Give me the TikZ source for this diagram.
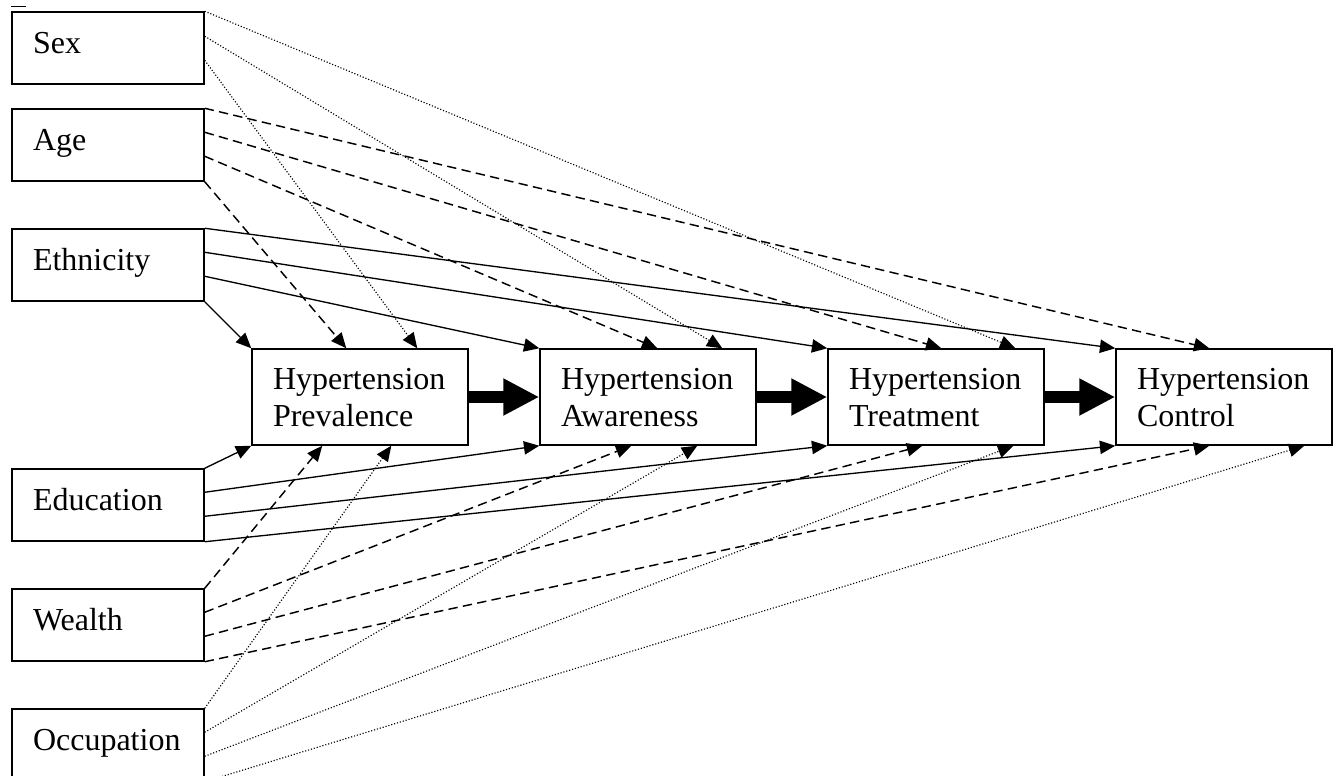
\documentclass[tikz,border=0pt]{standalone}
\usepackage{fontspec}
\setmainfont{Liberation Serif}
\usetikzlibrary{arrows.meta,calc}
\begin{document}
\begin{tikzpicture}[x=0.75pt,y=-0.75pt,
  every node/.style={font=\fontsize{24pt}{27.75pt}\selectfont},
  leftbox/.style={draw, line width=1.1pt, minimum width=144pt, minimum height=54pt,
    inner xsep=15.75pt, inner ysep=0pt, text width=112.5pt, align=left,
    text height=18pt, text depth=10.5pt},
  midbox/.style={draw, line width=1.1pt, minimum width=162pt, minimum height=72pt,
    inner xsep=15.75pt, inner ysep=0pt, text width=130.5pt, align=left,
    text height=18pt, text depth=30pt},
  link/.style={line width=1pt, -{Triangle[length=11.5pt,width=10pt]}},
  dashlink/.style={link, line width=1.1pt, dash pattern=on 7pt off 4pt},
  dotlink/.style={link, line width=0.85pt, dash pattern=on 0.85pt off 1.4pt},
  bigarrow/.style={line width=9pt, -{Triangle[length=27pt,width=26pt]}}
]
\useasboundingbox (0,0) rectangle (1341,775);

% left boxes
\node[leftbox] (sex)  at (108,48)  {Sex};
\node[leftbox] (age)  at (108,145) {Age};
\node[leftbox] (eth)  at (108,265) {Ethnicity};
\node[leftbox] (edu)  at (108,505) {Education};
\node[leftbox] (wea)  at (108,625) {Wealth};
\node[leftbox] (occ)  at (108,745) {Occupation};

% stray mark
\draw[line width=0.9pt] ($(sex.north west)+(0,-5)$) -- ($(sex.north west)+(15,-5)$);

% middle boxes
\node[midbox] (prev) at (360,397)  {Hypertension\\Prevalence};
\node[midbox] (awa)  at (648,397)  {Hypertension\\Awareness};
\node[midbox] (trt)  at (936,397)  {Hypertension\\Treatment};
\node[midbox] (ctl)  at (1224,397) {Hypertension\\Control};

% thick arrows
\draw[bigarrow] (prev.east) -- (awa.west);
\draw[bigarrow] (awa.east) -- (trt.west);
\draw[bigarrow] (trt.east) -- (ctl.west);

% Sex (dotted)
\draw[dotlink] (sex.north east) -- ($(trt.north west)+(188,0)$);
\draw[dotlink] ($(sex.north east)+(0,25)$) -- ($(awa.north west)+(183,0)$);
\draw[dotlink] ($(sex.north east)+(0,49)$) -- ($(prev.north west)+(166,0)$);

% Age (dashed)
\draw[dashlink] (age.north east) -- ($(ctl.north west)+(94,0)$);
\draw[dashlink] ($(age.north east)+(0,24)$) -- ($(trt.north west)+(114,0)$);
\draw[dashlink] ($(age.north east)+(0,48)$) -- ($(awa.north west)+(118,0)$);
\draw[dashlink] (age.south east) -- ($(prev.north west)+(95,0)$);

% Ethnicity (solid)
\draw[link] (eth.north east) -- (ctl.north west);
\draw[link] ($(eth.north east)+(0,24)$) -- (trt.north west);
\draw[link] ($(eth.north east)+(0,48)$) -- (awa.north west);
\draw[link] (eth.south east) -- (prev.north west);

% Education (solid)
\draw[link] (edu.north east) -- (prev.south west);
\draw[link] ($(edu.north east)+(0,24)$) -- (awa.south west);
\draw[link] ($(edu.north east)+(0,48)$) -- (trt.south west);
\draw[link] (edu.south east) -- (ctl.south west);

% Wealth (dashed)
\draw[dashlink] (wea.north east) -- ($(prev.south west)+(71,0)$);
\draw[dashlink] ($(wea.north east)+(0,24)$) -- ($(awa.south west)+(92,0)$);
\draw[dashlink] ($(wea.north east)+(0,48)$) -- ($(trt.south west)+(95,0)$);
\draw[dashlink] (wea.south east) -- ($(ctl.south west)+(94,0)$);

% Occupation (dotted)
\draw[dotlink] (occ.north east) -- ($(prev.south west)+(140,0)$);
\draw[dotlink] ($(occ.north east)+(0,24)$) -- ($(awa.south west)+(158,0)$);
\draw[dotlink] ($(occ.north east)+(0,48)$) -- ($(trt.south west)+(186,0)$);
\draw[dotlink] (occ.south east) -- ($(ctl.south west)+(189,0)$);
\end{tikzpicture}
\end{document}
